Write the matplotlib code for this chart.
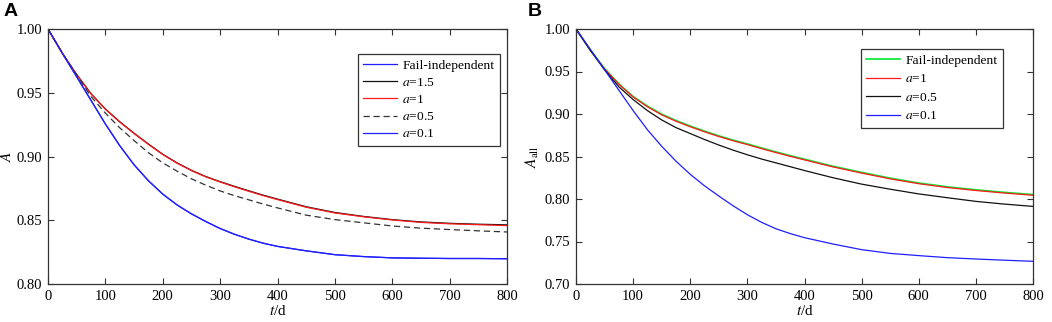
import matplotlib
matplotlib.use("Agg")
import matplotlib.pyplot as plt
from matplotlib.ticker import FormatStrFormatter

plt.rcParams['font.family'] = ['Liberation Serif', 'DejaVu Serif']
plt.rcParams['mathtext.fontset'] = 'stix'

# time axis (days), shared by both panels
t = [0, 25, 50, 75, 100, 125, 150, 175, 200, 225, 250, 275, 300, 325, 350, 375, 400,
     450, 500, 550, 600, 650, 700, 750, 800]

# panel A: availability A
a_fail_indep = [1.000, 0.981, 0.9625, 0.944, 0.9255, 0.9085, 0.8935, 0.881, 0.8705, 0.862,
                0.855, 0.849, 0.8435, 0.839, 0.8352, 0.832, 0.8295,
                0.826, 0.823, 0.8215, 0.8205, 0.8202, 0.820, 0.820, 0.8198]
a_15 = [1.000, 0.981, 0.9643, 0.9493, 0.9373, 0.9273, 0.9183, 0.9098, 0.9018, 0.8950,
        0.8892, 0.8843, 0.8803, 0.8766, 0.8731, 0.8697, 0.8666,
        0.8606, 0.8561, 0.853, 0.8505, 0.8487, 0.8476, 0.8469, 0.8464]
a_10 = [1.000, 0.981, 0.964, 0.949, 0.937, 0.927, 0.918, 0.9095, 0.9015, 0.8947,
        0.8889, 0.884, 0.880, 0.8762, 0.8727, 0.8693, 0.8662,
        0.8602, 0.8557, 0.8527, 0.8502, 0.8483, 0.8472, 0.8465, 0.8458]
a_05 = [1.000, 0.981, 0.964, 0.947, 0.934, 0.9225, 0.9125, 0.903, 0.895, 0.8885,
        0.8825, 0.8775, 0.873, 0.8693, 0.866, 0.8627, 0.8597,
        0.854, 0.8505, 0.848, 0.8455, 0.8438, 0.8427, 0.8417, 0.8408]
a_01 = a_fail_indep

# panel B: availability A_all
b_fail_indep = [1.000, 0.9755, 0.9535, 0.9355, 0.9205, 0.9093, 0.8998, 0.8923, 0.8858, 0.8798,
                0.8743, 0.8693, 0.8648, 0.86, 0.8554, 0.851, 0.8468,
                0.8385, 0.8313, 0.8245, 0.8188, 0.8143, 0.8108, 0.8078, 0.8052]
b_10 = [1.000, 0.975, 0.953, 0.935, 0.920, 0.9085, 0.899, 0.8915, 0.885, 0.879,
        0.8735, 0.8685, 0.864, 0.8592, 0.8546, 0.8502, 0.846,
        0.8377, 0.8305, 0.8237, 0.818, 0.8135, 0.810, 0.807, 0.8044]
b_05 = [1.000, 0.975, 0.952, 0.932, 0.917, 0.904, 0.893, 0.884, 0.877, 0.870,
        0.8635, 0.8575, 0.852, 0.847, 0.8425, 0.838, 0.8335,
        0.825, 0.8175, 0.8115, 0.806, 0.8015, 0.7972, 0.794, 0.7913]
b_01 = [1.000, 0.976, 0.952, 0.928, 0.904, 0.8815, 0.862, 0.8445, 0.829, 0.8155,
        0.8035, 0.792, 0.7815, 0.7725, 0.765, 0.7593, 0.7545,
        0.747, 0.7404, 0.736, 0.7334, 0.731, 0.7294, 0.728, 0.7267]

BLUE = '#1f1fff'
RED = '#ff1a1a'
GREEN = '#00e632'
BLACK = '#111111'

fig = plt.figure(figsize=(10.52, 3.22), dpi=100)
ax1 = fig.add_axes([48 / 1052, 38 / 322, 459 / 1052, 255 / 322])
ax2 = fig.add_axes([576 / 1052, 38 / 322, 457 / 1052, 255 / 322])

lw = 0.9
ax1.plot(t, a_fail_indep, color=BLUE, lw=lw, label='Fail-independent')
ax1.plot(t, a_15, color=BLACK, lw=lw, label='$a$=1.5')
ax1.plot(t, a_10, color=RED, lw=lw, label='$a$=1')
ax1.plot(t, a_05, color='#333333', lw=lw, ls=(0, (5, 3)), label='$a$=0.5')
ax1.plot(t, a_01, color=BLUE, lw=lw, label='$a$=0.1')

ax2.plot(t, b_fail_indep, color=GREEN, lw=1.2, label='Fail-independent')
ax2.plot(t, b_10, color=RED, lw=lw, label='$a$=1')
ax2.plot(t, b_05, color=BLACK, lw=lw, label='$a$=0.5')
ax2.plot(t, b_01, color=BLUE, lw=lw, label='$a$=0.1')

for ax in (ax1, ax2):
    ax.set_xlim(0, 800)
    ax.set_xticks(range(0, 801, 100))
    ax.yaxis.set_major_formatter(FormatStrFormatter('%.2f'))
    ax.tick_params(direction='in', top=True, right=True, labelsize=10.5,
                   length=4, width=0.8, color='#333333', pad=4)
    for s in ax.spines.values():
        s.set_color('#333333')
        s.set_linewidth(0.9)
    ax.set_xlabel('$t$/d', fontsize=11)
    ax.xaxis.set_label_coords(0.5, -0.08)

ax1.set_ylim(0.80, 1.00)
ax1.set_yticks([0.80, 0.85, 0.90, 0.95, 1.00])
ax1.set_ylabel('$A$', fontsize=11)
ax1.yaxis.set_label_coords(-0.074, 0.5)
ax2.set_ylim(0.70, 1.00)
ax2.set_yticks([0.70, 0.75, 0.80, 0.85, 0.90, 0.95, 1.00])
ax2.set_ylabel(r'$A_{\mathrm{all}}$', fontsize=11)
ax2.yaxis.set_label_coords(-0.076, 0.5)

leg_kw = dict(fancybox=False, edgecolor='#333333', framealpha=1, fontsize=9.7,
              handlelength=2.5, handletextpad=0.4, borderpad=0.4, labelspacing=0.35,
              borderaxespad=0)
leg1 = ax1.legend(loc='upper left', bbox_to_anchor=(358 / 1052, 1 - 54 / 322),
                  bbox_transform=fig.transFigure, **leg_kw)
leg2 = ax2.legend(loc='upper left', bbox_to_anchor=(861 / 1052, 1 - 49 / 322),
                  bbox_transform=fig.transFigure, **dict(leg_kw, labelspacing=0.45))
for leg in (leg1, leg2):
    leg.get_frame().set_linewidth(0.9)

fig.text(4 / 1052, 1 - 3 / 322, 'A', fontsize=14, fontweight='bold',
         family='Liberation Sans', va='top', ha='left')
fig.text(528 / 1052, 1 - 3 / 322, 'B', fontsize=14, fontweight='bold',
         family='Liberation Sans', va='top', ha='left')

fig.savefig('out.png', dpi=100)
